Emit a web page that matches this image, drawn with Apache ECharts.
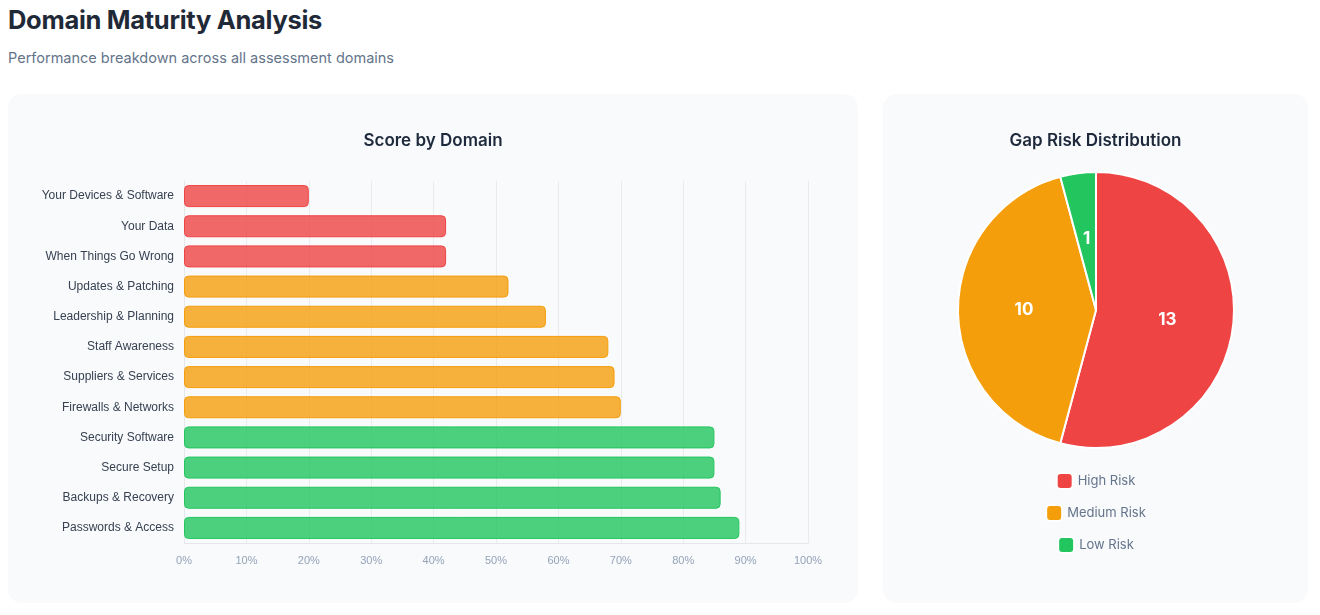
<!DOCTYPE html>
<html>
<head>
<meta charset="utf-8">
<script src="https://cdn.jsdelivr.net/npm/echarts@6/dist/echarts.min.js"></script>
<style>
  body { margin: 0; background: #ffffff; font-family: Inter, "Noto Sans", sans-serif; width: 1320px; height: 615px; position: relative; overflow: hidden; }
  h1 { position: absolute; left: 8px; top: 4px; margin: 0; font-size: 25.5px; font-weight: 700; color: #1f2937; letter-spacing: -0.3px; }
  .sub { position: absolute; left: 8px; top: 49px; margin: 0; font-size: 14.5px; color: #64748b; }
  .card { position: absolute; top: 94px; height: 509px; background: #f8fafc; border-radius: 14px; }
  #barCard { left: 8px; width: 850px; }
  #pieCard { left: 883px; width: 425px; }
</style>
</head>
<body>
<h1>Domain Maturity Analysis</h1>
<p class="sub">Performance breakdown across all assessment domains</p>
<div class="card" id="barCard"></div>
<div class="card" id="pieCard"></div>
<script>
const domains = [
  'Your Devices & Software', 'Your Data', 'When Things Go Wrong', 'Updates & Patching',
  'Leadership & Planning', 'Staff Awareness', 'Suppliers & Services', 'Firewalls & Networks',
  'Security Software', 'Secure Setup', 'Backups & Recovery', 'Passwords & Access'
];
const scores = [20, 42, 42, 52, 58, 68, 69, 70, 85, 85, 86, 89];
const riskNames = ['High Risk', 'Medium Risk', 'Low Risk'];
const riskCounts = [13, 10, 1];
const riskColors = ['#ef4444', '#f59e0b', '#22c55e'];
const barFill = ['rgba(239,68,68,0.8)', 'rgba(245,158,11,0.8)', 'rgba(34,197,94,0.8)'];

const levelOf = (v) => v < 50 ? 0 : (v < 75 ? 1 : 2);
const font = 'Inter';
const labelFont = '"Liberation Sans", Arial, sans-serif';

const barChart = echarts.init(document.getElementById('barCard'));
barChart.setOption({
  textStyle: { fontFamily: font },
  title: {
    text: 'Score by Domain', left: 'center', top: 33,
    textStyle: { fontSize: 17, fontWeight: 600, color: '#1e293b', fontFamily: font }
  },
  grid: { left: 176, right: 50, top: 87, bottom: 60 },
  xAxis: {
    type: 'value', min: 0, max: 100, interval: 10,
    axisLabel: { formatter: '{value}%', color: '#94a3b8', fontSize: 11, margin: 12, fontFamily: labelFont },
    axisLine: { show: true, lineStyle: { color: '#e5e7eb' } },
    axisTick: { show: false },
    splitLine: { show: true, lineStyle: { color: '#e9ebef' } }
  },
  yAxis: {
    type: 'category', data: domains, inverse: true,
    axisLabel: { color: '#374151', fontSize: 12, margin: 10, fontFamily: labelFont },
    axisLine: { show: true, lineStyle: { color: '#e5e7eb' } },
    axisTick: { show: false },
    splitLine: { show: false }
  },
  series: [{
    type: 'bar',
    barWidth: 22,
    data: scores.map(v => ({
      value: v,
      itemStyle: {
        color: barFill[levelOf(v)],
        borderColor: riskColors[levelOf(v)],
        borderWidth: 1,
        borderRadius: 4
      }
    }))
  }]
});

const pieChart = echarts.init(document.getElementById('pieCard'));
pieChart.setOption({
  textStyle: { fontFamily: font },
  color: riskColors,
  title: {
    text: 'Gap Risk Distribution', left: 'center', top: 33,
    textStyle: { fontSize: 17, fontWeight: 600, color: '#1e293b', fontFamily: font }
  },
  legend: riskNames.map((n, i) => ({
    data: [n], left: 'center', top: 373 + i * 32,
    icon: 'roundRect', itemWidth: 16, itemHeight: 16, itemGap: 10,
    textStyle: { color: '#64748b', fontSize: 13 },
    selectedMode: false
  })),
  series: [{
    type: 'pie',
    center: [213, 216],
    radius: [0, 138],
    startAngle: 90,
    clockwise: true,
    itemStyle: { borderColor: '#ffffff', borderWidth: 2 },
    label: {
      show: true, position: 'inside', formatter: '{c}',
      color: '#ffffff', fontSize: 17, fontWeight: 700
    },
    labelLine: { show: false },
    data: riskNames.map((n, i) => ({ name: n, value: riskCounts[i] }))
  }]
});
</script>
</body>
</html>
